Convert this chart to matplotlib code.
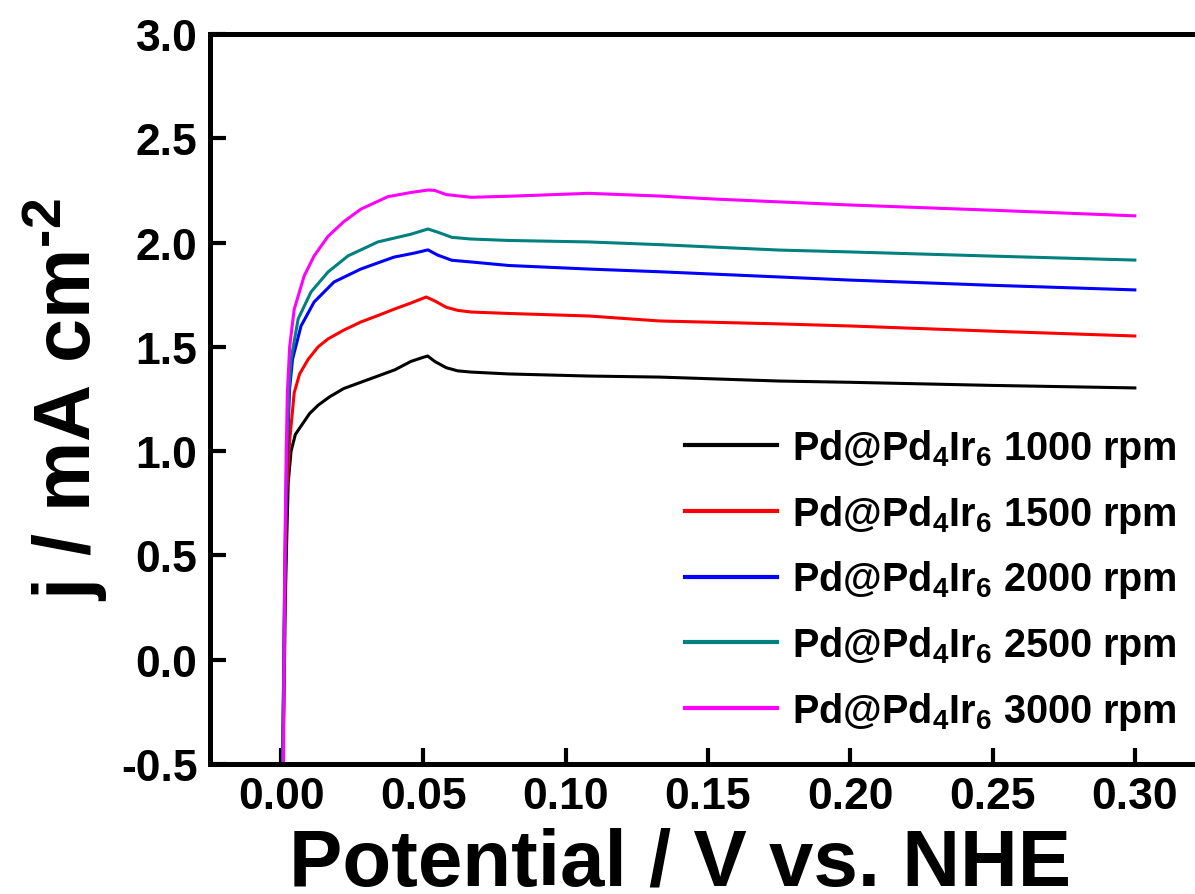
import matplotlib
matplotlib.use('Agg')
import matplotlib.pyplot as plt

# Valores (potencial em V, densidade de corrente em mA cm^-2)
x_1000 = [0.0005, 0.0010, 0.0015, 0.0020, 0.0025, 0.0035, 0.0050, 0.0070, 0.0100, 0.0130,
          0.0170, 0.0220, 0.0280, 0.0340, 0.0400, 0.0456, 0.0500, 0.0515, 0.0540, 0.0580,
          0.0620, 0.0667, 0.0800, 0.1080, 0.1330, 0.1750, 0.2000, 0.2500, 0.3000]
j_1000 = [-0.55, -0.20, 0.30, 0.59, 0.85, 1.00, 1.08, 1.12, 1.18, 1.22,
          1.26, 1.30, 1.33, 1.36, 1.39, 1.43, 1.45, 1.456, 1.43, 1.40,
          1.385, 1.379, 1.37, 1.36, 1.355, 1.336, 1.33, 1.315, 1.303]

x_1500 = [0.0005, 0.0012, 0.0020, 0.0030, 0.0035, 0.0046, 0.0065, 0.0095, 0.0130, 0.0165,
          0.0220, 0.0280, 0.0340, 0.0396, 0.0456, 0.0510, 0.0540, 0.0580, 0.0620, 0.0667,
          0.0800, 0.1080, 0.1330, 0.1750, 0.2000, 0.2500, 0.3000]
j_1500 = [-0.55, 0.20, 0.80, 1.05, 1.12, 1.28, 1.37, 1.44, 1.50, 1.538,
          1.58, 1.619, 1.65, 1.68, 1.71, 1.739, 1.72, 1.69, 1.675, 1.667,
          1.66, 1.648, 1.624, 1.61, 1.60, 1.575, 1.552]

x_2000 = [0.0005, 0.0012, 0.0020, 0.0030, 0.0040, 0.0070, 0.0116, 0.0186, 0.0280, 0.0396,
          0.0470, 0.0516, 0.0550, 0.0600, 0.0667, 0.0800, 0.1080, 0.1330, 0.1750, 0.2000,
          0.2500, 0.3000]
j_2000 = [-0.55, 0.30, 0.95, 1.30, 1.44, 1.60, 1.715, 1.811, 1.873, 1.93,
          1.95, 1.965, 1.94, 1.915, 1.907, 1.89, 1.873, 1.86, 1.835, 1.82,
          1.795, 1.773]

x_2500 = [0.0005, 0.0012, 0.0020, 0.0028, 0.0035, 0.0060, 0.0105, 0.0165, 0.0235, 0.0340,
          0.0456, 0.0516, 0.0550, 0.0600, 0.0667, 0.0800, 0.1080, 0.1330, 0.1750, 0.2000,
          0.2500, 0.3000]
j_2500 = [-0.55, 0.35, 1.00, 1.30, 1.44, 1.634, 1.763, 1.859, 1.936, 2.003,
          2.04, 2.065, 2.05, 2.025, 2.017, 2.01, 2.003, 1.99, 1.964, 1.955,
          1.935, 1.916]

x_3000 = [0.0008, 0.0011, 0.0014, 0.0018, 0.0022, 0.0030, 0.0046, 0.0081, 0.0116, 0.0165,
          0.0220, 0.0280, 0.0375, 0.0456, 0.0516, 0.0540, 0.0580, 0.0667, 0.0800, 0.1080,
          0.1330, 0.1500, 0.1750, 0.2000, 0.2500, 0.3000]
j_3000 = [-0.55, 0.00, 0.60, 1.00, 1.28, 1.50, 1.68, 1.84, 1.936, 2.03,
          2.10, 2.16, 2.22, 2.24, 2.252, 2.25, 2.23, 2.217, 2.222, 2.236,
          2.223, 2.21, 2.195, 2.18, 2.155, 2.128]

rotacoes = ['1000', '1500', '2000', '2500', '3000']
cores = ['black', 'red', 'blue', '#008080', '#ff00ff']
xticks = [0.00, 0.05, 0.10, 0.15, 0.20, 0.25, 0.30]
yticks = [-0.5, 0.0, 0.5, 1.0, 1.5, 2.0, 2.5, 3.0]

plt.rcParams['font.family'] = 'Liberation Sans'
plt.rcParams['font.weight'] = 'bold'
plt.rcParams['mathtext.fontset'] = 'custom'
plt.rcParams['mathtext.rm'] = 'Liberation Sans:bold'
plt.rcParams['mathtext.it'] = 'Liberation Sans:bold'
plt.rcParams['mathtext.bf'] = 'Liberation Sans:bold'
plt.rcParams['axes.unicode_minus'] = False

fig = plt.figure(figsize=(11.95, 8.95), dpi=100)
ax = fig.add_axes([0.1757, 0.1453, 0.8335, 0.8156])

series = [(x_1000, j_1000), (x_1500, j_1500), (x_2000, j_2000), (x_2500, j_2500), (x_3000, j_3000)]
for (xs, js), rpm, cor in zip(series, rotacoes, cores):
    ax.plot(xs, js, color=cor, linewidth=2.2, label='Pd@Pd$_4$Ir$_6$ ' + rpm + ' rpm')

ax.set_xlim(-0.025, 0.325)
ax.set_ylim(-0.5, 3.0)
ax.set_xticks(xticks)
ax.set_xticklabels(['%.2f' % v for v in xticks])
ax.set_yticks(yticks)
ax.set_yticklabels(['%.1f' % v for v in yticks])

for s in ax.spines.values():
    s.set_linewidth(3.6)
ax.tick_params(direction='in', length=11.5, width=3, labelsize=32, pad=9,
               top=False, right=False)

ax.set_xlabel('Potential / V vs. NHE', fontsize=57.5, fontweight='bold')
ax.xaxis.set_label_coords(0.472, -0.085)
ax.set_ylabel(r'j / mA cm$^{\text{-}2}$', fontsize=57, fontweight='bold')
ax.yaxis.set_label_coords(-0.1, 0.5)

leg = ax.legend(loc='lower right', bbox_to_anchor=(1177 / 1195, 1 - 733 / 895),
                bbox_transform=fig.transFigure, frameon=False, fontsize=28.5,
                handlelength=2.32, handletextpad=0.38, labelspacing=0.6,
                borderaxespad=0, borderpad=0)
for linha in leg.get_lines():
    linha.set_linewidth(3)

fig.savefig('out.png', dpi=100)
